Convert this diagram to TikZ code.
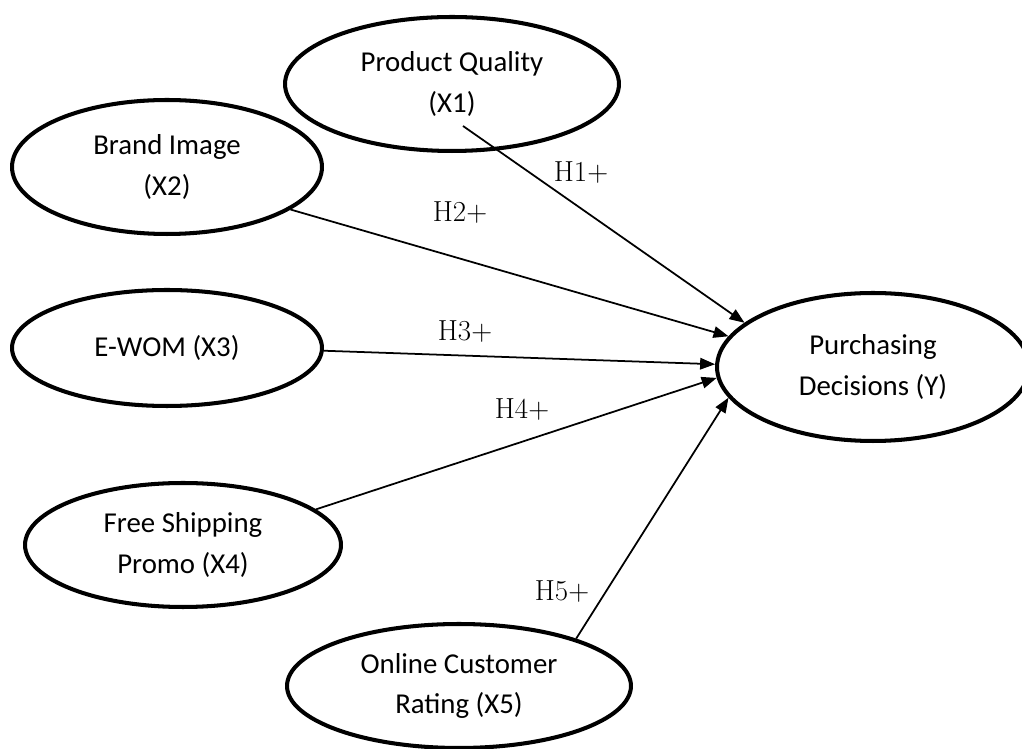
\documentclass[tikz,border=0pt]{standalone}
\usepackage{fontspec}
\setsansfont{Carlito}
\usetikzlibrary{arrows.meta,shapes.geometric}

\begin{document}
\begin{tikzpicture}[x=0.02cm,y=-0.02cm,>={Triangle[length=0.3cm,width=0.23cm]},line join=round,
  latent/.style={ellipse,draw,line width=2.3pt,inner sep=0pt,align=center,font=\sffamily\fontsize{16.4}{23.3}\selectfont},
  path/.style={->,line width=1pt},
  hyp/.style={font=\fontsize{16.5}{19}\selectfont}]
  \clip (0,0) rectangle (1022,749);
  \useasboundingbox (0,0) rectangle (1022,749);

  \node[latent,minimum width=6.68cm,minimum height=2.68cm] (x1) at (452,84) {Product Quality\\(X1)};
  \node[latent,minimum width=6.2cm,minimum height=2.68cm] (x2) at (167,167) {Brand Image\\(X2)};
  \node[latent,minimum width=6.2cm,minimum height=2.32cm] (x3) at (167,348) {E-WOM (X3)};
  \node[latent,minimum width=6.32cm,minimum height=2.48cm] (x4) at (183,545) {Free Shipping\\Promo (X4)};
  \node[latent,minimum width=6.88cm,minimum height=2.48cm] (x5) at (459,686) {Online Customer\\Rating (X5)};
  \node[latent,minimum width=6.24cm,minimum height=2.96cm] (y) at (873,367) {Purchasing\\Decisions (Y)};

  \coordinate (s1) at (463,126);
  \draw[path] (s1) -- (y.161);
  \draw[path] (x2.-19) -- (y.168);
  \draw[path] (x3.-1) -- (y.179);
  \draw[path] (x4.15) -- (y.184);
  \draw[path] (x5.22) -- (y.192);

  \node[hyp] (h1) at (581,173) {H1+};
  \node[hyp] (h2) at (460,213) {H2+};
  \node[hyp] (h3) at (465,332) {H3+};
  \node[hyp] (h4) at (522,410) {H4+};
  \node[hyp] (h5) at (562,592) {H5+};
\end{tikzpicture}
\end{document}
